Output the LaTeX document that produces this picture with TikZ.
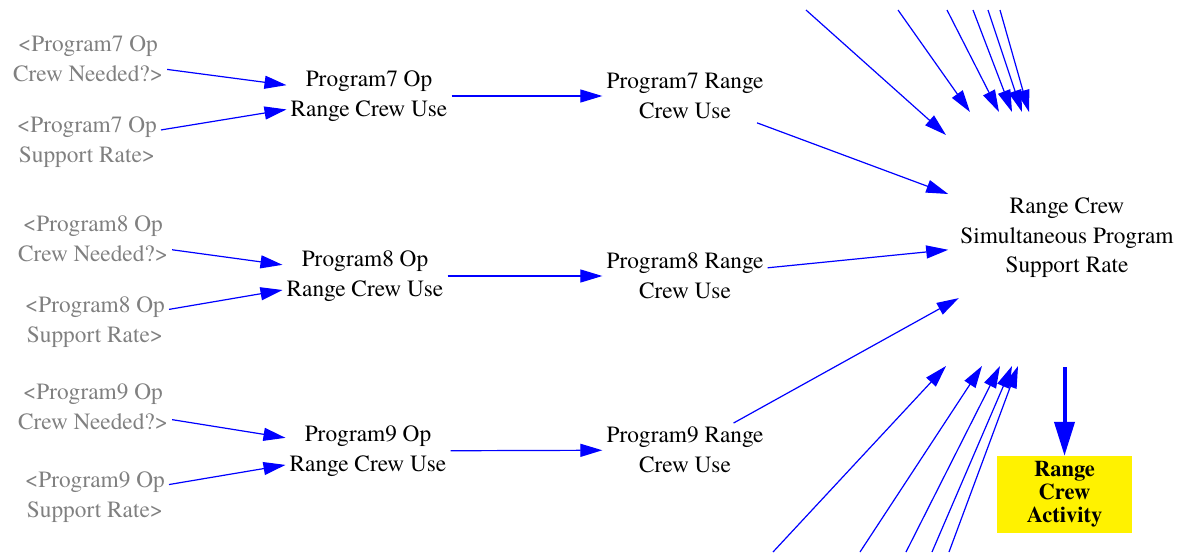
\documentclass[tikz,border=0pt]{standalone}
\usepackage{fontspec}
\setmainfont{texgyretermes}[Extension=.otf, UprightFont=*-regular, BoldFont=*-bold]
\usetikzlibrary{arrows.meta}

\definecolor{linkblue}{RGB}{0,0,255}
\definecolor{shadowgray}{RGB}{128,128,128}

\begin{document}
\begin{tikzpicture}[x=1pt, y=-1pt,
  every node/.style={align=center, inner sep=4pt, font=\fontsize{23.3}{29.5}\selectfont},
  shadowvar/.style={text=shadowgray},
  flow/.style={draw=linkblue, line width=1.2pt, -{Triangle[length=22pt,width=13pt]}},
  bigflow/.style={draw=linkblue, line width=4pt, -{Triangle[length=34pt,width=20pt]}}]

  \useasboundingbox (0,0) rectangle (1181,552);

  % ***************** PROGRAM 7 *****************
  \node[shadowvar] (need7) at (88,59) {<Program7 Op\\Crew Needed?>};
  \node[shadowvar] (rate7) at (87,142) {<Program7 Op\\Support Rate>};
  \node (opuse7) at (369,96) {Program7 Op\\Range Crew Use};
  \node (use7) at (685,96) {Program7 Range\\Crew Use};

  % ***************** PROGRAM 8 *****************
  \node[shadowvar] (need8) at (93,239) {<Program8 Op\\Crew Needed?>};
  \node[shadowvar] (rate8) at (95,322) {<Program8 Op\\Support Rate>};
  \node (opuse8) at (365,276) {Program8 Op\\Range Crew Use};
  \node (use8) at (685,276) {Program8 Range\\Crew Use};

  % ***************** PROGRAM 9 *****************
  \node[shadowvar] (need9) at (93,407) {<Program9 Op\\Crew Needed?>};
  \node[shadowvar] (rate9) at (95,497) {<Program9 Op\\Support Rate>};
  \node (opuse9) at (368,451) {Program9 Op\\Range Crew Use};
  \node (use9) at (685,450) {Program9 Range\\Crew Use};

  % ***************** SUPPORT RATE *****************
  \node[inner xsep=12pt, inner ysep=20pt] (simrate) at (1067,238) {Range Crew\\Simultaneous Program\\Support Rate};

  \node[fill=yellow, minimum width=135pt, minimum height=77pt,
        font=\fontsize{22.5}{23}\selectfont\bfseries] (activity) at (1064.5,494.5) {Range\\Crew\\Activity};

  % ***************** LINKS *****************
  \draw[flow] (need7) -- (opuse7);
  \draw[flow] (rate7) -- (opuse7);
  \draw[flow] (opuse7) -- (use7);
  \draw[flow] (use7) -- (simrate);

  \draw[flow] (need8) -- (opuse8);
  \draw[flow] (rate8) -- (opuse8);
  \draw[flow] (opuse8) -- (use8);
  \draw[flow] (use8) -- (simrate);

  \draw[flow] (need9) -- (opuse9);
  \draw[flow] (rate9) -- (opuse9);
  \draw[flow] (opuse9) -- (use9);
  \draw[flow] (use9) -- (simrate);

  % ***************** OTHER PROGRAMS (TOP) *****************
  \coordinate (topA) at (806,10);   \coordinate (topAend) at (946,135);
  \coordinate (topB) at (898,10);   \coordinate (topBend) at (970,112);
  \coordinate (topC) at (947,10);   \coordinate (topCend) at (999,112);
  \coordinate (topD) at (973,10);   \coordinate (topDend) at (1012,112);
  \coordinate (topE) at (988,10);   \coordinate (topEend) at (1022,112);
  \coordinate (topF) at (1000,10);  \coordinate (topFend) at (1029,112);

  \draw[flow] (topA) -- (topAend);
  \draw[flow] (topB) -- (topBend);
  \draw[flow] (topC) -- (topCend);
  \draw[flow] (topD) -- (topDend);
  \draw[flow] (topE) -- (topEend);
  \draw[flow] (topF) -- (topFend);

  % ***************** OTHER PROGRAMS (BOTTOM) *****************
  \coordinate (botG) at (773,552);  \coordinate (botGend) at (946,366);
  \coordinate (botH) at (860,552);  \coordinate (botHend) at (982,366);
  \coordinate (botI) at (906,552);  \coordinate (botIend) at (1000,366);
  \coordinate (botJ) at (932,552);  \coordinate (botJend) at (1012,366);
  \coordinate (botK) at (949,552);  \coordinate (botKend) at (1018,366);

  \draw[flow] (botG) -- (botGend);
  \draw[flow] (botH) -- (botHend);
  \draw[flow] (botI) -- (botIend);
  \draw[flow] (botJ) -- (botJend);
  \draw[flow] (botK) -- (botKend);

  % ***************** ACTIVITY *****************
  \coordinate (actsrc) at (1064.5,367);
  \draw[bigflow] (actsrc) -- (activity);

\end{tikzpicture}
\end{document}
